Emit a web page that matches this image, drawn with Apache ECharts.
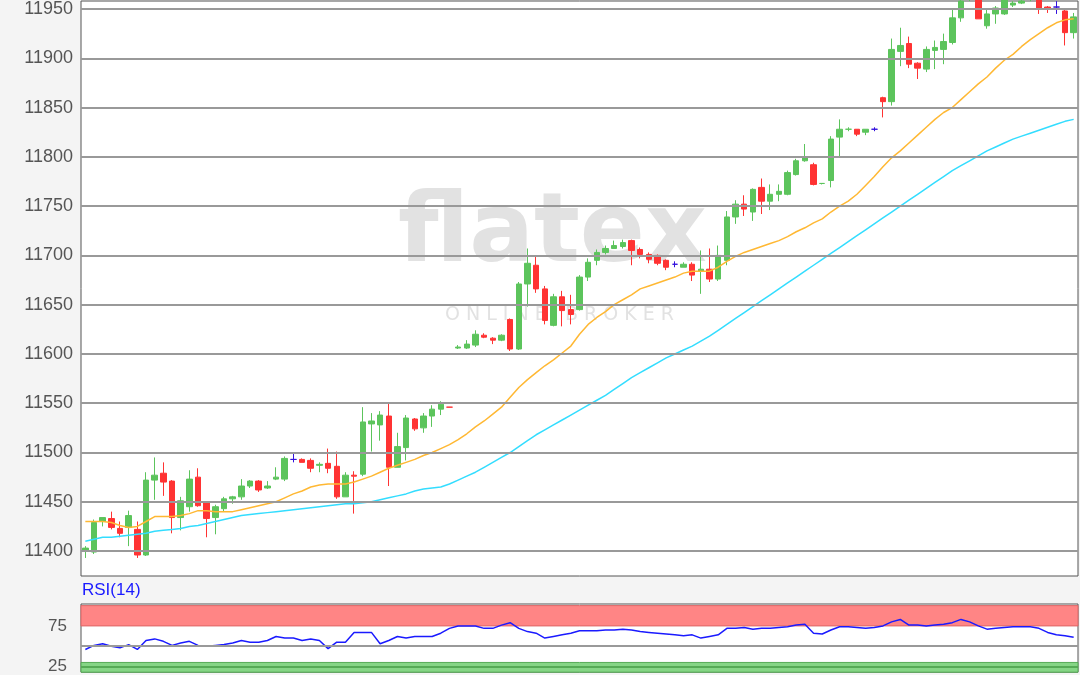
<!DOCTYPE html>
<html>
<head>
<meta charset="utf-8">
<script src="https://cdn.jsdelivr.net/npm/echarts@6/dist/echarts.min.js"></script>
<style>
  html, body { margin: 0; padding: 0; background: #f4f4f4; }
  #main { width: 1080px; height: 675px; }
</style>
</head>
<body>
<div id="main"></div>
<script>
// OHLC: [open, close, low, high]
var ohlc = [
  [11400,11403,11393,11405],[11399,11429,11397,11432],[11430,11434,11425,11434],[11433,11424,11422,11440],
  [11423,11418,11414,11430],[11424,11436,11405,11441],[11422,11396,11393,11430],[11396,11472,11395,11480],
  [11472,11477,11452,11495],[11479,11470,11456,11490],[11471,11434,11418,11472],[11434,11451,11421,11455],
  [11445,11473,11440,11482],[11475,11446,11445,11484],[11450,11433,11414,11450],[11434,11445,11417,11447],
  [11443,11453,11440,11455],[11453,11455,11448,11456],[11455,11466,11452,11473],[11466,11471,11464,11472],
  [11471,11462,11460,11472],[11464,11466,11463,11471],[11473,11475,11472,11485],[11473,11494,11471,11496],
  [11493,11493,11490,11499],[11493,11490,11490,11494],[11492,11484,11480,11494],[11487,11488,11480,11490],
  [11489,11484,11479,11504],[11486,11455,11453,11501],[11455,11477,11455,11480],[11477,11476,11438,11481],
  [11478,11531,11476,11546],[11529,11532,11501,11540],[11528,11538,11512,11542],[11537,11485,11466,11550],
  [11485,11506,11485,11520],[11505,11535,11492,11538],[11534,11524,11522,11535],[11525,11537,11520,11540],
  [11537,11544,11526,11548],[11544,11549,11538,11552],[11546,11546,11546,11546],
  [11606,11607,11605,11609],[11606,11610,11605,11614],[11609,11620,11607,11624],[11619,11617,11616,11621],
  [11616,11614,11610,11617],[11614,11619,11613,11620],[11635,11605,11603,11636],[11605,11671,11604,11673],
  [11671,11692,11648,11707],[11690,11666,11662,11699],[11666,11634,11630,11669],[11629,11658,11628,11661],
  [11658,11644,11628,11664],[11645,11640,11630,11660],[11645,11678,11644,11680],[11678,11693,11674,11697],
  [11695,11703,11690,11706],[11703,11707,11701,11710],[11707,11710,11707,11715],[11709,11713,11707,11716],
  [11715,11705,11690,11716],[11706,11701,11697,11708],[11701,11696,11692,11703],[11700,11692,11690,11701],
  [11695,11688,11685,11696],[11691,11691,11688,11694],[11688,11691,11688,11693],[11691,11680,11674,11693],
  [11684,11686,11661,11705],[11686,11676,11673,11707],[11676,11700,11674,11710],[11695,11739,11690,11745],
  [11739,11752,11732,11756],[11752,11747,11740,11761],[11744,11767,11735,11768],[11769,11755,11742,11778],
  [11755,11762,11746,11772],[11762,11765,11755,11772],[11762,11784,11761,11786],[11782,11796,11781,11798],
  [11796,11799,11795,11813],[11792,11772,11771,11794],[11773,11773,11772,11773],[11776,11818,11769,11821],
  [11820,11828,11800,11838],[11828,11828,11826,11830],[11828,11823,11821,11828],[11825,11828,11822,11828],
  [11828,11828,11826,11830],[11860,11856,11840,11861],[11856,11909,11852,11920],[11907,11913,11892,11931],
  [11915,11894,11890,11922],[11895,11890,11879,11896],[11889,11909,11886,11912],[11908,11911,11889,11918],
  [11909,11917,11894,11925],[11916,11941,11914,11950],[11941,11958,11937,11962],[11962,11968,11958,11975],
  [11965,11940,11940,11970],[11933,11945,11930,11950],[11945,11951,11935,11953],[11945,11960,11944,11965],
  [11954,11956,11952,11958],[11956,11958,11955,11960],[11960,11962,11958,11965],[11962,11950,11945,11963],
  [11952,11950,11946,11953],[11952,11952,11945,11958],[11948,11926,11913,11950],[11926,11942,11920,11946]
];
// indices drawn as blue crosses
var blueDoji = [24, 68, 91, 112];

var maShort = [
  11430,11430,11430,11429,11426,11424,11425,11430,11435,11435,11435,11436,11438,11441,11441,11440,
  11440,11440,11442,11444,11446,11448,11450,11454,11458,11461,11465,11467,11468,11468,11468,11470,
  11473,11476,11480,11484,11487,11490,11493,11497,11500,11504,11508,11513,11519,11526,11532,11539,
  11546,11556,11566,11574,11581,11588,11594,11601,11608,11620,11630,11637,11643,11650,11655,11660,
  11666,11669,11672,11675,11678,11682,11684,11684,11684,11688,11694,11699,11703,11706,11709,11712,
  11715,11719,11724,11728,11733,11737,11744,11750,11755,11762,11771,11780,11790,11799,11806,11814,
  11822,11830,11838,11845,11850,11858,11866,11874,11881,11890,11898,11904,11912,11919,11925,11931,
  11936,11939,11940
];
var maLong = [
  11410,11412,11414,11414,11415,11416,11417,11418,11420,11421,11422,11423,11425,11426,11428,11430,
  11432,11434,11436,11437,11438,11439,11440,11441,11442,11443,11444,11445,11446,11447,11448,11448,
  11449,11450,11452,11454,11456,11458,11461,11463,11464,11465,11468,11472,11476,11480,11485,11490,
  11495,11500,11506,11512,11518,11523,11528,11533,11538,11543,11548,11553,11558,11564,11570,11576,
  11581,11586,11591,11596,11600,11604,11608,11613,11618,11624,11630,11636,11642,11648,11654,11660,
  11666,11672,11678,11684,11690,11696,11702,11708,11714,11720,11726,11732,11738,11744,11750,11756,
  11762,11768,11774,11780,11786,11791,11796,11801,11806,11810,11814,11818,11821,11824,11827,11830,
  11833,11836,11838
];
var rsi = [
  46,51,53,50,48,52,46,57,59,56,51,54,56,51,50,51,52,54,57,55,55,57,62,60,60,57,59,57,47,55,55,67,
  67,67,53,57,62,60,62,62,62,66,72,75,75,75,72,72,76,79,72,68,66,60,62,64,66,69,69,69,70,70,71,70,
  68,67,66,65,64,63,64,60,62,64,72,72,73,71,72,72,73,74,76,77,66,65,70,74,74,73,72,73,75,80,83,76,
  76,75,76,77,79,83,80,75,71,72,73,74,74,74,72,67,64,63,61
];
var priceTicks = [11400, 11450, 11500, 11550, 11600, 11650, 11700, 11750, 11800, 11850, 11900, 11950];
var rsiTicks = [25, 75];

var cats = ohlc.map(function (d, i) { return i; });
var candleData = ohlc.map(function (d, i) {
  if (blueDoji.indexOf(i) >= 0) {
    return { value: d, itemStyle: { color: '#3311dd', color0: '#3311dd', borderColor: '#3311dd', borderColor0: '#3311dd' } };
  }
  return d;
});

var chart = echarts.init(document.getElementById('main'));
chart.setOption({
  animation: false,
  backgroundColor: '#f4f4f4',
  textStyle: { fontFamily: 'Liberation Sans' },
  grid: [
    { left: 81, top: 0, width: 997, height: 576, show: true, backgroundColor: '#fff', borderColor: '#555', borderWidth: 1 },
    { left: 81, top: 604, width: 997, height: 71, show: true, backgroundColor: '#fff', borderColor: '#555', borderWidth: 1 }
  ],
  graphic: [
    { type: 'text', left: 398, top: 188, silent: true, z: 0,
      style: { text: 'flatex', font: 'bold 96px "DejaVu Sans"', fill: '#e2e2e2' } },
    { type: 'text', left: 445, top: 306, silent: true, z: 0,
      style: { text: 'O N L I N E   B R O K E R', font: '19px "DejaVu Sans"', fill: '#e2e2e2' } },
    { type: 'text', left: 82, top: 582,
      style: { text: 'RSI(14)', font: '17px "Liberation Sans"', fill: '#1a1aff' } }
  ],
  xAxis: [
    { type: 'category', gridIndex: 0, data: cats, boundaryGap: true,
      axisLine: { show: false }, axisTick: { show: false }, axisLabel: { show: false } },
    { type: 'category', gridIndex: 1, data: cats, boundaryGap: true,
      axisLine: { show: false }, axisTick: { show: false }, axisLabel: { show: false } }
  ],
  yAxis: [
    { type: 'value', gridIndex: 0, min: 11374.7, max: 11958.1,
      axisLine: { show: false }, axisTick: { show: false },
      axisLabel: { color: '#555', fontSize: 18, margin: 8, customValues: priceTicks,
        formatter: function (v) { return String(v); } },
      splitLine: { show: false } },
    { type: 'value', gridIndex: 1, min: 18, max: 102,
      axisLine: { show: false }, axisTick: { show: false },
      axisLabel: { color: '#555', fontSize: 17, margin: 14, customValues: rsiTicks,
        formatter: function (v) { return String(v); } },
      splitLine: { show: false } }
  ],
  series: [
    { type: 'line', xAxisIndex: 0, yAxisIndex: 0, data: [], silent: true,
      markLine: { symbol: 'none', silent: true, label: { show: false },
        lineStyle: { color: '#999', width: 2, type: 'solid' },
        data: priceTicks.map(function (t) { return { yAxis: t }; }) } },
    { type: 'candlestick', xAxisIndex: 0, yAxisIndex: 0, data: candleData, barWidth: 6, z: 3,
      itemStyle: { color: '#5cc45c', color0: '#ff3333', borderColor: '#5cc45c', borderColor0: '#ff3333', borderWidth: 1 } },
    { type: 'line', xAxisIndex: 0, yAxisIndex: 0, data: maShort, showSymbol: false, z: 4,
      lineStyle: { color: '#ffb833', width: 1.5 } },
    { type: 'line', xAxisIndex: 0, yAxisIndex: 0, data: maLong, showSymbol: false, z: 4,
      lineStyle: { color: '#33ddff', width: 1.5 } },
    { type: 'line', xAxisIndex: 1, yAxisIndex: 1, data: rsi, showSymbol: false, z: 4,
      lineStyle: { color: '#1a1aff', width: 1.5 },
      markArea: { silent: true,
        data: [
          [{ yAxis: 75, itemStyle: { color: '#ff8585', borderColor: '#dd6666', borderWidth: 1 } }, { yAxis: 100 }],
          [{ yAxis: 18, itemStyle: { color: '#85d585', borderColor: '#55aa55', borderWidth: 1 } }, { yAxis: 30 }]
        ] },
      markLine: { symbol: 'none', silent: true, label: { show: false },
        lineStyle: { color: '#999', width: 2, type: 'solid' },
        data: [{ yAxis: 50 }, { yAxis: 25, lineStyle: { color: '#55aa55' } }] } }
  ]
});
</script>
</body>
</html>
